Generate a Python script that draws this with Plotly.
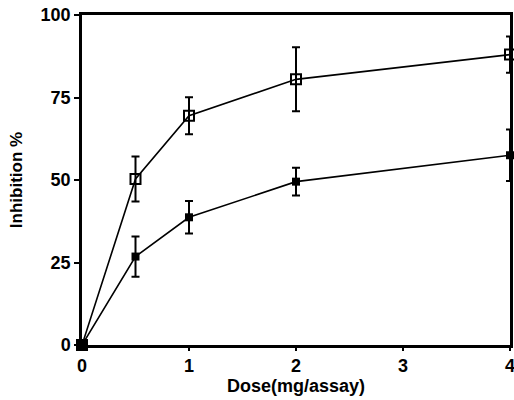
import plotly.graph_objects as go

dose = [0, 0.5, 1, 2, 4]
open_vals = [0, 50.3, 69.5, 80.5, 88.0]
open_err = [0, 6.8, 5.6, 9.7, 5.5]
filled_vals = [0, 26.8, 38.7, 49.5, 57.5]
filled_err = [0, 6.1, 4.9, 4.2, 7.8]
x_ticks = [0, 1, 2, 3, 4]
y_ticks = [0, 25, 50, 75, 100]

fig = go.Figure()
fig.add_trace(go.Scatter(
    x=dose, y=filled_vals, mode="lines+markers",
    line=dict(color="black", width=1.6),
    marker=dict(symbol="square", size=8, color="black"),
    error_y=dict(type="data", array=filled_err, color="black", thickness=2, width=4),
    cliponaxis=False, showlegend=False))
fig.add_trace(go.Scatter(
    x=dose, y=open_vals, mode="lines+markers",
    line=dict(color="black", width=1.6),
    marker=dict(symbol="square-open", size=10, color="black", line=dict(width=2)),
    error_y=dict(type="data", array=open_err, color="black", thickness=2, width=4),
    cliponaxis=False, showlegend=False))
fig.add_trace(go.Scatter(
    x=[0], y=[0], mode="markers",
    marker=dict(symbol="circle", size=9, color="black"),
    cliponaxis=False, showlegend=False))

font = dict(family="Liberation Sans, Arial, sans-serif", size=18, color="black")
fig.update_layout(
    width=514, height=400,
    margin=dict(l=82, r=4, t=15, b=55),
    paper_bgcolor="white", plot_bgcolor="white",
    font=font,
    xaxis=dict(range=[0, 4], tickvals=x_ticks, ticktext=[f"<b>{v}</b>" for v in x_ticks],
               automargin=False, ticklabeloverflow="allow",
               showgrid=False, zeroline=False, showline=True, linecolor="black", linewidth=2.5,
               mirror=True, ticks="outside", ticklen=3, tickwidth=2, tickcolor="black",
               tickfont=dict(size=18),
               title=dict(text="<b>Dose(mg/assay)</b>", standoff=0, font=dict(size=18))),
    yaxis=dict(range=[0, 100], tickvals=y_ticks, ticktext=[f"<b>{v}</b>" for v in y_ticks],
               automargin=False,
               showgrid=False, zeroline=False, showline=True, linecolor="black", linewidth=2.5,
               mirror=True, ticks="outside", ticklen=5, tickwidth=2, tickcolor="black",
               tickfont=dict(size=18),
               title=dict(text="<b>Inhibition %</b>", standoff=14, font=dict(size=17))),
)
fig.write_html("out.html", config={"displayModeBar": False},
               post_script="document.body.style.margin='0';")
